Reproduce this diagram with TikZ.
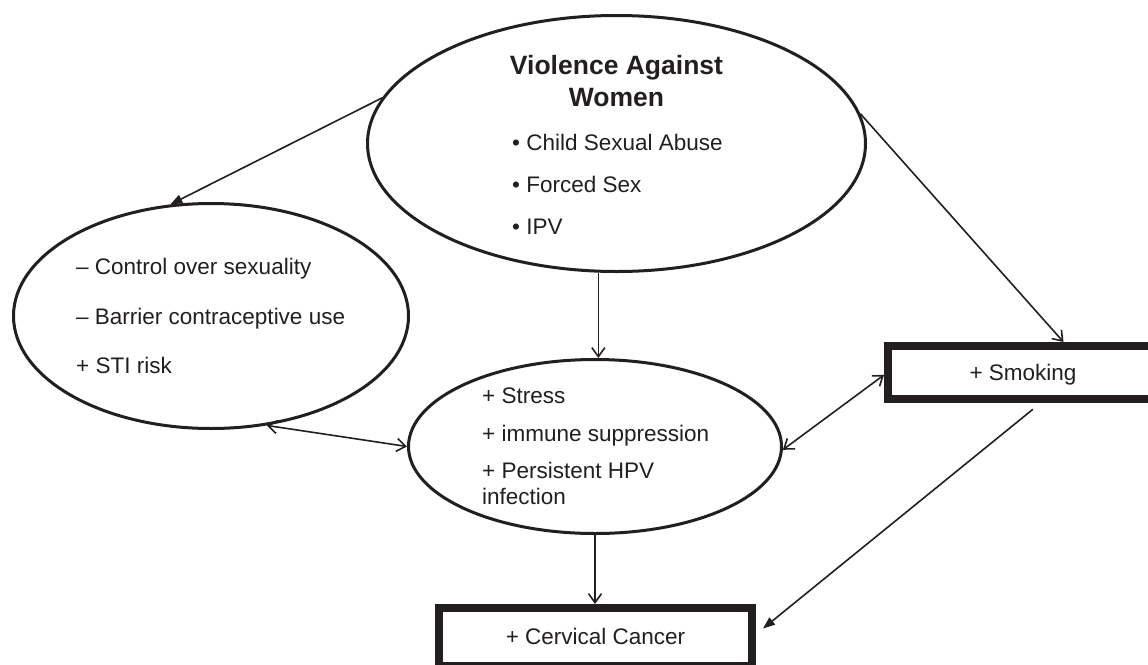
\documentclass[tikz,border=0pt]{standalone}
\usepackage{fontspec}
\setmainfont{Liberation Sans}
\usetikzlibrary{shapes.geometric,arrows.meta}
\definecolor{ink}{HTML}{231F20}
\begin{document}
\begin{tikzpicture}[x=1pt,y=-1pt,
  oval/.style={draw=ink, line width=3pt, ellipse, inner sep=0pt},
  thickbox/.style={draw=ink, line width=8pt, rectangle, inner sep=0pt},
  txt/.style={font=\fontsize{22.5}{27}\selectfont, text=ink, inner sep=0pt},
  ttl/.style={font=\fontsize{26.5}{32}\selectfont\bfseries, text=ink, inner sep=0pt},
  conn/.style={line width=1.6pt, draw=ink},
  openhead/.style={-{Straight Barb[length=9pt,width=13pt]}},
  openboth/.style={{Straight Barb[length=9pt,width=13pt]}-{Straight Barb[length=9pt,width=13pt]}},
  filledhead/.style={-{Triangle[length=12pt,width=9pt]}}
]
\clip (0,0) rectangle (1148,664);
\fill[white] (0,0) rectangle (1148,664);

% shapes
\node[oval, minimum width=498pt, minimum height=256pt] (vaw) at (616.5,143.5) {};
\node[oval, minimum width=395pt, minimum height=225pt] (lft) at (211,316) {};
\node[oval, minimum width=373pt, minimum height=174pt] (mid) at (595,446.5) {};
\node[thickbox, minimum width=270pt, minimum height=53pt] (smk) at (1023,372.5) {};
\node[thickbox, minimum width=313pt, minimum height=58pt] (cer) at (595.5,637) {};

% texts
\node[ttl, anchor=base] (t1) at (616.5,74) {Violence Against};
\node[ttl, anchor=base] (t2) at (616.5,106) {Women};
\node[txt, anchor=base west] (v1) at (512,150) {• Child Sexual Abuse};
\node[txt, anchor=base west] (v2) at (512,192) {• Forced Sex};
\node[txt, anchor=base west] (v3) at (512,234) {• IPV};

\node[txt, anchor=base west] (l1) at (76,274) {– Control over sexuality};
\node[txt, anchor=base west] (l2) at (76,324) {– Barrier contraceptive use};
\node[txt, anchor=base west] (l3) at (76,373) {+ STI risk};

\node[txt, anchor=base west] (m1) at (482,403) {+ Stress};
\node[txt, anchor=base west] (m2) at (482,441) {+ immune suppression};
\node[txt, anchor=base west] (m3) at (482,478) {+ Persistent HPV};
\node[txt, anchor=base west] (m4) at (482,504) {infection};

\node[txt, anchor=base] (s1) at (1023,380) {+ Smoking};
\node[txt, anchor=base] (c1) at (595.5,644) {+ Cervical Cancer};

% connectors
\draw[conn, filledhead] (vaw.169.2) -- (lft.110);
\draw[conn, openhead] (vaw.7.1) -- (smk.37.3);
\draw[conn, openhead] (vaw.-98.9) -- (vaw.-98.9 |- mid.north);
\draw[conn, openboth] (lft.-63.9) -- (mid.180);
\draw[conn, openboth] (mid.-1) -- (smk.181);
\draw[conn, openhead] (mid.south) -- (mid.south |- cer.north);
\draw[conn, filledhead, shorten <=10pt, shorten >=9pt] (smk.-60.9) -- (cer.1);
\end{tikzpicture}
\end{document}
